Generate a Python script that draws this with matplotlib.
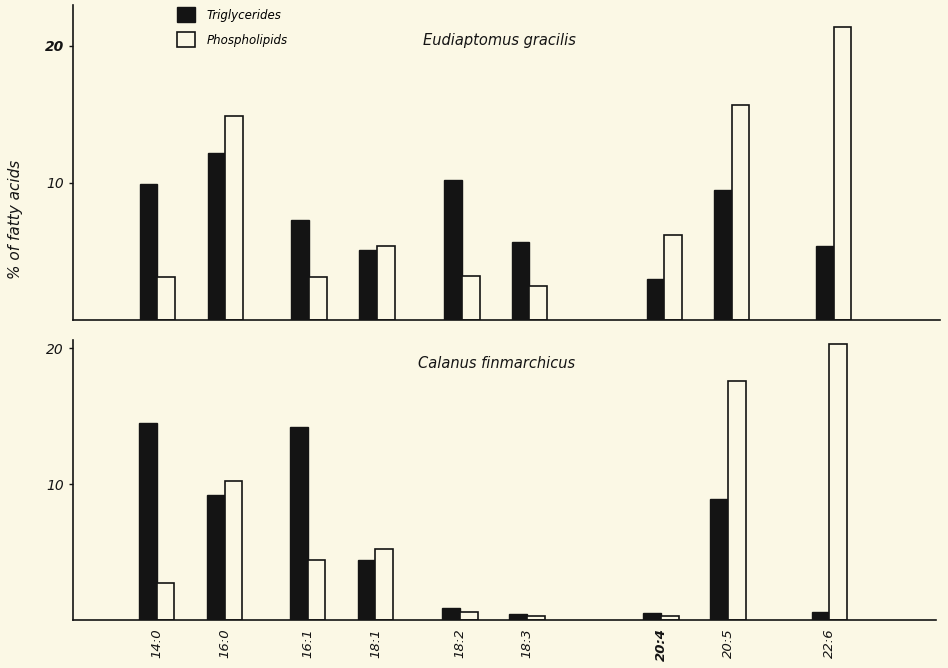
import matplotlib.pyplot as plt

# fatty acid categories (x axis)
acids = ["14:0", "16:0", "16:1", "18:1", "18:2", "18:3", "20:4", "20:5", "22:6"]

# % of fatty acids
eudiaptomus_tg = [9.9, 12.2, 7.3, 5.1, 10.2, 5.7, 3.0, 9.5, 5.4]
eudiaptomus_pl = [3.1, 14.9, 3.1, 5.4, 3.2, 2.5, 6.2, 15.7, 21.4]
calanus_tg = [14.5, 9.2, 14.2, 4.4, 0.9, 0.45, 0.5, 8.9, 0.6]
calanus_pl = [2.7, 10.2, 4.4, 5.2, 0.6, 0.3, 0.3, 17.6, 20.3]

# layout: group centres on the x axis (uneven spacing as in the original)
group_x = [1.24, 2.24, 3.47, 4.47, 5.72, 6.71, 8.69, 9.68, 11.18]
bar_w = 0.26
bg = "#fbf8e5"
ink = "#141414"

plt.rcParams["font.family"] = ["DejaVu Sans"]

fig = plt.figure(figsize=(9.48, 6.68), dpi=100, facecolor=bg)
ax_top = fig.add_axes([0.077, 0.521, 0.915, 0.472], facecolor=bg)
ax_bot = fig.add_axes([0.077, 0.072, 0.91, 0.419], facecolor=bg)


def draw_panel(ax, tg, pl, ymax, title, title_y):
    left = [x - bar_w / 2 for x in group_x]
    right = [x + bar_w / 2 for x in group_x]
    ax.bar(left, tg, width=bar_w, color=ink, edgecolor=ink, linewidth=1.0,
           label="Triglycerides")
    ax.bar(right, pl, width=bar_w, color=bg, edgecolor=ink, linewidth=1.2,
           label="Phospholipids")
    ax.set_xlim(0, 12.75)
    ax.set_ylim(0, ymax)
    for s in ("top", "right"):
        ax.spines[s].set_visible(False)
    for s in ("left", "bottom"):
        ax.spines[s].set_linewidth(1.2)
        ax.spines[s].set_color(ink)
    ax.set_yticks([10, 20])
    ax.tick_params(axis="y", length=3, width=1, colors=ink, labelsize=10)
    for lab in ax.get_yticklabels():
        lab.set_fontstyle("italic")
    ax.text(0.5 * (group_x[4] + group_x[5]) + 0.05, title_y, title,
            fontsize=10.5, fontstyle="italic", color=ink, ha="center", va="center")


draw_panel(ax_top, eudiaptomus_tg, eudiaptomus_pl, 23.0, "Eudiaptomus gracilis", 20.4)
draw_panel(ax_bot, calanus_tg, calanus_pl, 20.6, "Calanus finmarchicus", 18.85)

ax_top.set_xticks([])
ax_top.get_yticklabels()[1].set_fontweight("bold")
ax_top.set_ylabel("% of fatty acids", fontsize=11, fontstyle="italic", color=ink,
                  labelpad=22)
ax_top.yaxis.set_label_coords(-0.058, 0.32)

ax_bot.set_xticks(group_x)
ax_bot.set_xticklabels(acids, rotation=90, fontsize=9.5, fontstyle="italic")
ax_bot.tick_params(axis="x", length=0, pad=6, colors=ink)
ax_bot.get_xticklabels()[6].set_fontweight("bold")

leg = ax_top.legend(loc="upper left", bbox_to_anchor=(0.108, 1.025), frameon=False,
                    fontsize=8.5, handlelength=1.5, handleheight=1.5,
                    labelspacing=0.9, handletextpad=1.0)
for t in leg.get_texts():
    t.set_fontstyle("italic")

fig.savefig("out.png", dpi=100, facecolor=bg)
plt.close(fig)
